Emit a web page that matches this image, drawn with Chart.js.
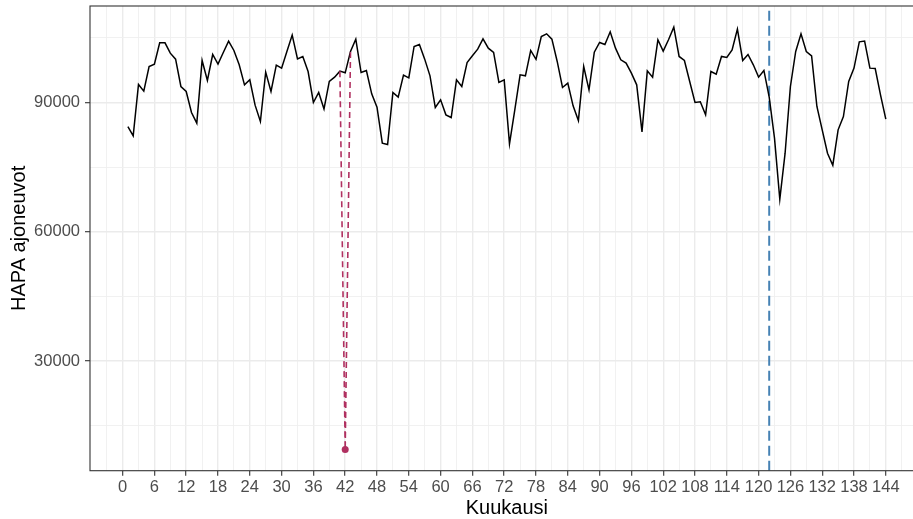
<!DOCTYPE html>
<html>
<head>
<meta charset="utf-8">
<script src="https://cdn.jsdelivr.net/npm/chart.js@4.4.1/dist/chart.umd.min.js"></script>
<style>
  html, body { margin: 0; padding: 0; overflow: hidden; background: #fff; }
  canvas { display: block; }
</style>
</head>
<body>
<canvas id="hapaChart" width="930" height="519"></canvas>
<script>
// kuukausi 1..144
const months = Array.from({ length: 144 }, (_, i) => i + 1);

const hapaValues = [
  84400, 82250, 94170, 92620, 98340, 98890, 103840, 103840, 101440, 100050, 93700, 92540,
  87660, 85190, 99740, 95090, 101130, 98890, 101600, 104230, 102060, 98730, 94090, 95250,
  89370, 85570, 97030, 92540, 98650, 97960, 101830, 105620, 100120, 100670, 97180, 89990,
  92310, 88500, 94900, 95870, 97260, 96870, 101830, 104690, 96950, 97420, 92000, 88900,
  80540, 80230, 92310, 91230, 96330, 95710, 102990, 103450, 100050, 96180, 88820, 90600,
  87120, 86500, 95250, 93700, 99270, 100820, 102370, 104770, 102600, 101600, 94630, 95250,
  80390, 88280, 96410, 96180, 102060, 100000, 105310, 105930, 104690, 99510, 93470, 94470,
  89210, 85800, 98340, 92930, 101670, 103920, 103450, 106390, 102600, 99890, 99120, 96800,
  94090, 83170, 97340, 95870, 104540, 101900, 104540, 107480, 100670, 99740, 94860, 89990,
  90140, 87120, 97180, 96560, 100670, 100430, 102210, 107010, 99740, 101130, 98730, 95870,
  97420, 91230, 81700, 67540, 78220, 93700, 101830, 105930, 101830, 100820, 89060, 83640,
  78220, 75430, 83640, 86730, 94860, 97960, 104070, 104230, 97960, 97880, 91770, 86110
];

// alkuperainen poikkeava havainto
const outlierMonths = [41, 42, 43];
const outlierValues = [97260, 9435, 101830];

// pystyviiva
const cutMonth = 122;

const xLabelTicks = [0, 6, 12, 18, 24, 30, 36, 42, 48, 54, 60, 66, 72, 78, 84, 90, 96,
  102, 108, 114, 120, 126, 132, 138, 144];
const yLabelTicks = [30000, 60000, 90000];

// ggplot-tyylinen 5 % laajennus
const allY = hapaValues.concat(outlierValues);
const yLo = Math.min(...allY), yHi = Math.max(...allY);
const yMin = yLo - 0.05 * (yHi - yLo);
const yMax = yHi + 0.05 * (yHi - yLo);
const xMin = 1 - 0.05 * 143;
const xMax = 144 + 0.05 * 143;

const xGridTicks = [-3].concat(...xLabelTicks.map(v => [v, v + 3]));
const yGridTicks = [15000].concat(...yLabelTicks.map(v => [v, v + 15000]));

const panelBorder = {
  id: 'panelBorder',
  afterDraw(chart) {
    const { ctx, chartArea: a } = chart;
    ctx.save();
    ctx.strokeStyle = '#333333';
    ctx.lineWidth = 1.1;
    ctx.strokeRect(a.left, a.top, a.right - a.left, a.bottom - a.top);
    ctx.restore();
  }
};

Chart.defaults.font.family = '"Liberation Sans", Arial, sans-serif';

new Chart('hapaChart', {
  type: 'line',
  data: {
    datasets: [
      {
        data: months.map((m, i) => ({ x: m, y: hapaValues[i] })),
        borderColor: '#000000',
        borderWidth: 1.5,
        pointRadius: 0,
        tension: 0,
        order: 1
      },
      {
        data: outlierMonths.map((m, i) => ({ x: m, y: outlierValues[i] })),
        borderColor: '#B03060',
        backgroundColor: '#B03060',
        borderWidth: 1.6,
        borderDash: [6, 4],
        pointRadius: outlierMonths.map(m => (m === 42 ? 3.5 : 0)),
        pointBorderWidth: 0,
        order: 0
      },
      {
        data: [{ x: cutMonth, y: yMin }, { x: cutMonth, y: yMax }],
        borderColor: '#4682B4',
        borderWidth: 2,
        borderDash: [10, 5],
        pointRadius: 0,
        order: 2
      }
    ]
  },
  options: {
    responsive: false,
    animation: false,
    events: [],
    layout: { padding: { left: 0, top: 6, right: 930 - 923.7, bottom: 0 } },
    plugins: { legend: { display: false }, tooltip: { enabled: false } },
    scales: {
      x: {
        type: 'linear',
        min: xMin,
        max: xMax,
        afterBuildTicks: s => { s.ticks = xGridTicks.map(v => ({ value: v })); },
        afterFit: s => {
          s.height = 48.3;
          s.paddingLeft = s.paddingRight = s.paddingTop = s.paddingBottom = 0;
        },
        border: { display: false },
        grid: {
          color: c => (c.tick && xLabelTicks.includes(c.tick.value) ? '#EBEBEB' : '#EFEFEF'),
          lineWidth: c => (c.tick && xLabelTicks.includes(c.tick.value) ? 1.4 : 0.9),
          tickColor: c => (c.tick && xLabelTicks.includes(c.tick.value) ? '#333333' : 'rgba(0,0,0,0)'),
          tickLength: 5,
          tickWidth: 1.1
        },
        ticks: {
          autoSkip: false,
          maxRotation: 0,
          padding: 2,
          color: '#4D4D4D',
          font: { size: 16.5 },
          callback: v => (xLabelTicks.includes(v) ? String(v) : '')
        },
        title: {
          display: true,
          text: 'Kuukausi',
          color: '#000000',
          font: { size: 20, lineHeight: 1.1 },
          padding: { top: 0, bottom: 0 }
        }
      },
      y: {
        min: yMin,
        max: yMax,
        afterBuildTicks: s => { s.ticks = yGridTicks.map(v => ({ value: v })); },
        afterFit: s => {
          s.width = 90;
          s.paddingLeft = s.paddingRight = s.paddingTop = s.paddingBottom = 0;
        },
        border: { display: false },
        grid: {
          color: c => (c.tick && yLabelTicks.includes(c.tick.value) ? '#EBEBEB' : '#EFEFEF'),
          lineWidth: c => (c.tick && yLabelTicks.includes(c.tick.value) ? 1.4 : 0.9),
          tickColor: c => (c.tick && yLabelTicks.includes(c.tick.value) ? '#333333' : 'rgba(0,0,0,0)'),
          tickLength: 5,
          tickWidth: 1.1
        },
        ticks: {
          autoSkip: false,
          padding: 5,
          color: '#4D4D4D',
          font: { size: 16.5 },
          callback: v => (yLabelTicks.includes(v) ? String(v) : '')
        },
        title: {
          display: true,
          text: 'HAPA ajoneuvot',
          color: '#000000',
          font: { size: 20, lineHeight: 1.2 },
          padding: { top: 7, bottom: 0 }
        }
      }
    }
  },
  plugins: [panelBorder]
});
</script>
</body>
</html>
